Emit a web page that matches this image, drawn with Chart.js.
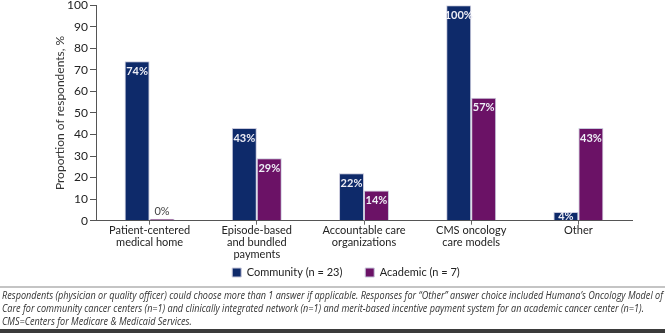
<!DOCTYPE html>
<html>
<head>
<meta charset="utf-8">
<script src="https://cdn.jsdelivr.net/npm/chart.js@4.4.1/dist/chart.umd.min.js"></script>
<style>
  body { margin: 0; background: #fff; width: 665px; height: 333px; overflow: hidden; position: relative; font-family: Lato, sans-serif; }
  #wrap { position: absolute; left: 0; top: -4px; width: 665px; height: 292px; }
  #rule { position: absolute; left: 0; top: 286px; width: 665px; height: 2px; background: #c4c4c4; }
  #note { position: absolute; left: 2px; top: 289px; font-family: 'Open Sans', sans-serif; font-style: italic; color: #333; white-space: nowrap; line-height: 13px; font-size: 10px; transform-origin: 0 0; }
  #band { position: absolute; left: 0; top: 329px; width: 665px; height: 4px; background: #3b3b3b; }
</style>
</head>
<body>
<div id="wrap"><canvas id="chart"></canvas></div>
<div id="rule"></div>
<div id="note">
  <span id="line1">Respondents (physician or quality officer) could choose more than 1 answer if applicable. Responses for “Other” answer choice included Humana’s Oncology Model of</span><br>
  Care for community cancer centers (n=1) and clinically integrated network (n=1) and merit-based incentive payment system for an academic cancer center (n=1).<br>
  CMS=Centers for Medicare &amp; Medicaid Services.
</div>
<div id="band"></div>
<script>
// values
const categories = [
  ['Patient-centered', 'medical home'],
  ['Episode-based', 'and bundled', 'payments'],
  ['Accountable care', 'organizations'],
  ['CMS oncology', 'care models'],
  'Other'
];
const community = [74, 43, 22, 100, 4];
const academic = [0, 29, 14, 57, 43];
const seriesNames = ['Community (n = 23)', 'Academic (n = 7)'];
const yTitle = 'Proportion of respondents, %';

// squeeze the footnote to the page width
const note = document.getElementById('note');
const w = document.getElementById('line1').getBoundingClientRect().width;
note.style.transform = 'scaleX(' + (661 / w) + ')';

// percent labels on the bars
const barLabels = {
  id: 'barLabels',
  afterDatasetsDraw(chart) {
    const ctx = chart.ctx;
    ctx.save();
    ctx.textAlign = 'center';
    ctx.textBaseline = 'middle';
    chart.data.datasets.forEach((ds, i) => {
      chart.getDatasetMeta(i).data.forEach((bar, j) => {
        const v = ds.data[j];
        const h = bar.base - bar.y;
        let y;
        if (v === 0) {
          ctx.font = '11px Lato';
          ctx.fillStyle = '#444';
          y = bar.y - 7;
        } else {
          ctx.font = 'bold 11px Lato';
          ctx.fillStyle = '#eeeef6';
          y = h < 16 ? (bar.y + bar.base) / 2 : bar.y + 10;
        }
        ctx.fillText(v + '%', bar.x, y);
      });
    });
    ctx.restore();
  }
};

const ctx = document.getElementById('chart').getContext('2d');
new Chart(ctx, {
  type: 'bar',
  data: {
    labels: categories,
    datasets: [
      {
        label: seriesNames[0],
        data: community,
        backgroundColor: '#0e2a6a',
        borderColor: '#c9c9dc',
        borderWidth: 1,
        minBarLength: 2
      },
      {
        label: seriesNames[1],
        data: academic,
        backgroundColor: '#6b1266',
        borderColor: '#c9c9dc',
        borderWidth: 1,
        minBarLength: 2
      }
    ]
  },
  options: {
    responsive: true,
    maintainAspectRatio: false,
    animation: false,
    datasets: { bar: { categoryPercentage: 0.466, barPercentage: 1 } },
    layout: { padding: { left: 60, right: 33, top: 0, bottom: 0 } },
    plugins: {
      legend: {
        position: 'bottom',
        labels: {
          boxWidth: 9,
          boxHeight: 9,
          padding: 6,
          color: '#222',
          font: { family: 'Lato', size: 11 },
          // wider gap between the two entries
          generateLabels(chart) {
            const items = Chart.defaults.plugins.legend.labels.generateLabels(chart);
            items[0].text += '      ';
            return items;
          }
        }
      },
      tooltip: { enabled: false }
    },
    scales: {
      x: {
        grid: { display: true, offset: false, drawOnChartArea: false, tickLength: 4, color: '#666' },
        border: { color: '#555', width: 1 },
        ticks: { color: '#222', font: { family: 'Lato', size: 11, lineHeight: 1.1 }, padding: 0, maxRotation: 0, autoSkip: false }
      },
      y: {
        min: 0,
        max: 100,
        afterFit(scale) { scale.width = 36; },
        title: { display: true, text: yTitle, color: '#333', font: { family: 'Lato', size: 12 }, padding: { top: -7, bottom: 0 } },
        grid: { drawOnChartArea: false, tickLength: 6, color: '#555' },
        border: { color: '#555', width: 1 },
        ticks: { stepSize: 10, color: '#222', font: { family: 'Lato', size: 12 }, padding: 2 }
      }
    }
  },
  plugins: [barLabels]
});
</script>
</body>
</html>
